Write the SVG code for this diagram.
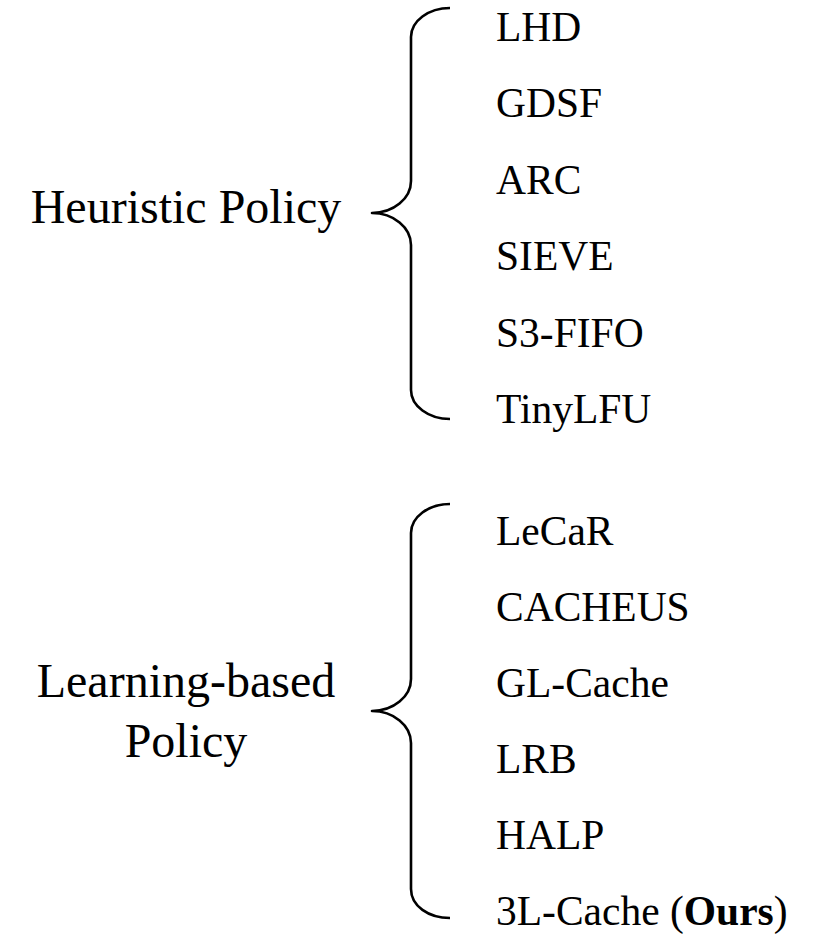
<svg xmlns="http://www.w3.org/2000/svg" width="826" height="934" viewBox="0 0 826 934">
  <style>
    .cat { font-family: "Liberation Serif", "Times New Roman", serif; font-size: 48px; fill: #000; text-anchor: middle; }
    .item { font-family: "Liberation Serif", "Times New Roman", serif; font-size: 41.5px; fill: #000; }
    .brace { fill: none; stroke: #000; stroke-width: 2.6; stroke-linecap: butt; stroke-linejoin: round; }
  </style>
  <rect width="826" height="934" fill="#fff"/>

  <!-- category labels -->
  <g id="heuristic">
    <text class="cat" x="186" y="223">Heuristic Policy</text>
  </g>
  <g id="learning">
    <text class="cat" x="186" y="697">Learning-based</text>
    <text class="cat" x="186" y="757">Policy</text>
  </g>

  <!-- curly braces grouping the policies -->
  <g id="connectors">
    <path class="brace" d="M 450 8 C 428.5 8, 411 21, 411 37 L 411 181 C 411 198.6, 393.5 213, 372 213 C 393.5 213, 411 227.4, 411 245 L 411 390 C 411 406, 428.5 419, 450 419"/>
    <path class="brace" d="M 450 504 C 428.5 504, 411 517, 411 533 L 411 679 C 411 696.6, 393.5 711, 372 711 C 393.5 711, 411 725.4, 411 743 L 411 889 C 411 906, 428.5 918, 450 918"/>
  </g>

  <!-- heuristic policies -->
  <g id="lhd"><text class="item" x="496" y="40.5">LHD</text></g>
  <g id="gdsf"><text class="item" x="496" y="117">GDSF</text></g>
  <g id="arc"><text class="item" x="496" y="193.5">ARC</text></g>
  <g id="sieve"><text class="item" x="496" y="270">SIEVE</text></g>
  <g id="s3fifo"><text class="item" x="496" y="346.5">S3-FIFO</text></g>
  <g id="tinylfu"><text class="item" x="496" y="423">TinyLFU</text></g>

  <!-- learning-based policies -->
  <g id="lecar"><text class="item" x="496" y="545">LeCaR</text></g>
  <g id="cacheus"><text class="item" x="496" y="621">CACHEUS</text></g>
  <g id="glcache"><text class="item" x="496" y="697">GL-Cache</text></g>
  <g id="lrb"><text class="item" x="496" y="773">LRB</text></g>
  <g id="halp"><text class="item" x="496" y="849">HALP</text></g>
  <g id="l3cache"><text class="item" x="496" y="925">3L-Cache (<tspan font-weight="bold">Ours</tspan>)</text></g>
</svg>
